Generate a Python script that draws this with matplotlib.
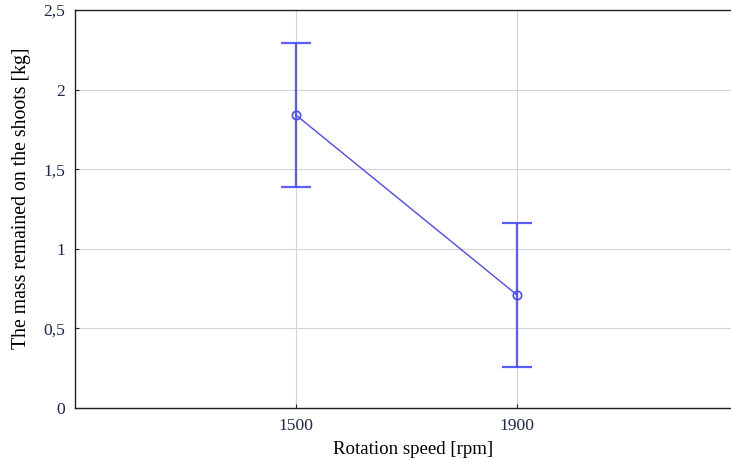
import matplotlib.pyplot as plt
import matplotlib.ticker as mticker

# --- data ---
speeds = ['1500', '1900']
mass_mean = [1.84, 0.71]
mass_upper = [2.29, 1.16]
mass_lower = [1.39, 0.26]

plt.rcParams['font.family'] = ['Liberation Serif', 'DejaVu Serif']

pos = [1, 2]
err_lo = [m - l for m, l in zip(mass_mean, mass_lower)]
err_hi = [u - m for m, u in zip(mass_mean, mass_upper)]

fig = plt.figure(figsize=(7.31, 4.59), dpi=100)
ax = fig.add_axes([75 / 731, 51 / 459, 663 / 731, 398 / 459])

blue = '#4a4aff'
ax.errorbar(pos, mass_mean, yerr=[err_lo, err_hi], fmt='none', ecolor=blue,
            elinewidth=1.6, capsize=11, capthick=1.6, alpha=0.9, zorder=3)
ax.plot(pos, mass_mean, color=blue, linewidth=1.0, marker='o', markersize=6,
        markerfacecolor='none', markeredgewidth=1.2, zorder=4)

ax.set_xlim(0, 3)
ax.set_ylim(0, 2.5)
ax.set_xticks(pos)
ax.set_xticklabels(speeds)
ax.set_yticks([0, 0.5, 1, 1.5, 2, 2.5])
ax.yaxis.set_major_formatter(mticker.FuncFormatter(
    lambda v, p: f'{v:g}'.replace('.', ',')))

ax.grid(True, color='#d4d4d4', linewidth=0.8)
ax.set_axisbelow(True)
ax.spines['right'].set_visible(False)
for s in ['left', 'bottom', 'top']:
    ax.spines[s].set_linewidth(1.0)
    ax.spines[s].set_color('#222222')

ax.tick_params(axis='both', direction='in', length=3, labelsize=12.6,
               labelcolor='#1c2850', color='#222222')
ax.tick_params(axis='y', pad=7)
ax.tick_params(axis='x', pad=7)

ax.set_xlabel('Rotation speed [rpm]', fontsize=13.6)
ax.xaxis.set_label_coords(0.51, -0.083)
ax.xaxis.label.set_verticalalignment('top')
ax.set_ylabel('The mass remained on the shoots [kg]', fontsize=14.2)
ax.yaxis.set_label_coords(-0.066, 0.528)

plt.savefig('out.png', dpi=100)
